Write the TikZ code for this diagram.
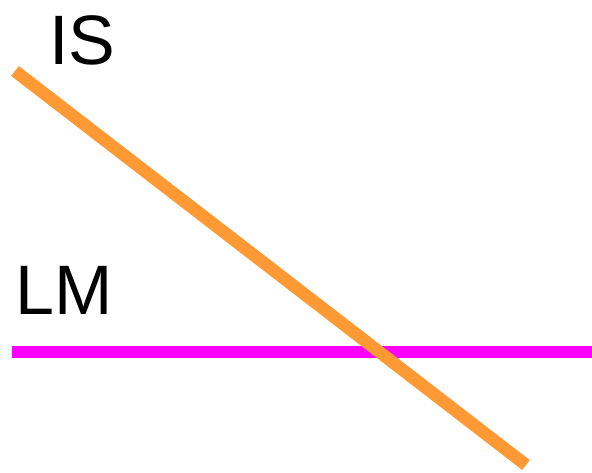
\documentclass[tikz,border=0pt]{standalone}
\usepackage{fontspec}
\setmainfont{Liberation Sans}
\usepackage{tikz}
\usetikzlibrary{positioning}
\definecolor{isorange}{RGB}{255,153,51}
\definecolor{lmmagenta}{RGB}{255,0,255}

\begin{document}
\begin{tikzpicture}[x=1pt, y=-1pt,
  curvelab/.style={anchor=base west, inner sep=0pt, font=\fontsize{70}{84}\selectfont},
  curveline/.style={line width=12.5pt}]
\useasboundingbox (0,0) rectangle (592,473);
\coordinate (lmL) at (12,352);
\coordinate (lmR) at (592,352);
\coordinate (isL) at (15,71);
\coordinate (isR) at (526,465);
\draw[curveline, lmmagenta] (lmL) -- (lmR);
\draw[curveline, isorange] (isL) -- (isR);
\node[curvelab] (islab) at (49,65) {IS};
\node[curvelab] (lmlab) at (15,315) {LM};
\end{tikzpicture}
\end{document}
